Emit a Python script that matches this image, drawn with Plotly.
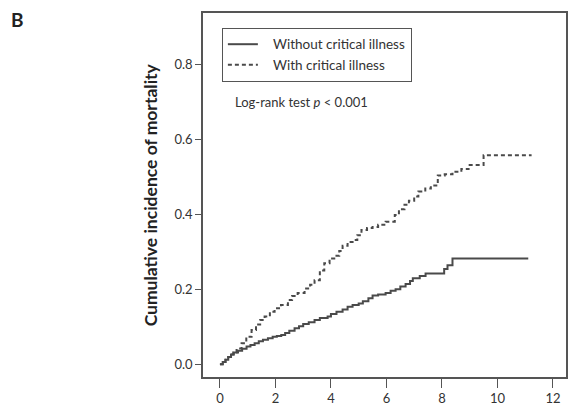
import plotly.graph_objects as go

# Cumulative incidence of mortality (step curves)
time_without = [0, 0.1, 0.2, 0.3, 0.4, 0.5, 0.65, 0.8, 0.96, 1.1, 1.25, 1.4, 1.55, 1.73, 1.9, 2.05, 2.21,
                2.35, 2.5, 2.69, 2.85, 3.0, 3.2, 3.41, 3.6, 3.88, 4.0, 4.2, 4.42, 4.6, 4.78, 5.0, 5.15,
                5.35, 5.5, 5.7, 5.97, 6.15, 6.33, 6.5, 6.69, 6.85, 6.95, 7.2, 7.41, 7.95, 8.08, 8.2,
                8.38, 11.11]
cum_without = [0, 0.006, 0.012, 0.019, 0.026, 0.031, 0.036, 0.041, 0.047, 0.051, 0.056, 0.061, 0.065,
               0.069, 0.073, 0.075, 0.078, 0.083, 0.089, 0.096, 0.101, 0.107, 0.112, 0.118, 0.123, 0.127,
               0.134, 0.14, 0.146, 0.153, 0.158, 0.162, 0.168, 0.176, 0.183, 0.186, 0.19, 0.196, 0.2,
               0.207, 0.214, 0.222, 0.229, 0.235, 0.242, 0.242, 0.254, 0.264, 0.282, 0.282]

time_with = [0, 0.1, 0.2, 0.3, 0.4, 0.48, 0.6, 0.78, 0.95, 1.14, 1.3, 1.45, 1.61, 1.8, 1.97, 2.2, 2.45,
             2.6, 2.8, 3.05, 3.25, 3.41, 3.6, 3.76, 3.95, 4.12, 4.3, 4.42, 4.6, 4.78, 4.95, 5.1, 5.3,
             5.5, 5.7, 5.97, 6.15, 6.3, 6.45, 6.65, 6.81, 7.0, 7.15, 7.4, 7.6, 7.85, 8.1, 8.38, 8.7,
             8.96, 9.5, 11.23]
cum_with = [0, 0.006, 0.012, 0.019, 0.026, 0.031, 0.042, 0.056, 0.073, 0.091, 0.106, 0.118, 0.127,
            0.14, 0.149, 0.158, 0.171, 0.182, 0.19, 0.202, 0.212, 0.224, 0.25, 0.269, 0.282, 0.289,
            0.302, 0.316, 0.326, 0.331, 0.344, 0.358, 0.363, 0.366, 0.372, 0.38, 0.38, 0.398, 0.413,
            0.425, 0.436, 0.447, 0.46, 0.468, 0.476, 0.503, 0.506, 0.513, 0.52, 0.531, 0.557, 0.557]

series_names = ["Without critical illness", "With critical illness"]
x_ticks = [0, 2, 4, 6, 8, 10, 12]
y_ticks = [0.0, 0.2, 0.4, 0.6, 0.8]

FONT = "Lato"
INK = "#333333"
LINE = "#4a4a4a"
PAD = "&nbsp;&nbsp;&nbsp;"

fig = go.Figure()
fig.add_trace(go.Scatter(x=time_without, y=cum_without, mode="lines", name=PAD + series_names[0],
                         line=dict(color=LINE, width=2, shape="hv")))
fig.add_trace(go.Scatter(x=time_with, y=cum_with, mode="lines", name=PAD + series_names[1],
                         line=dict(color=LINE, width=2, shape="hv", dash="4px,3px")))

fig.update_layout(
    width=569, height=411,
    margin=dict(l=203, r=1, t=13, b=34),
    plot_bgcolor="white", paper_bgcolor="white",
    font=dict(family=FONT, size=13, color=INK),
    showlegend=True,
    legend=dict(x=0.052, y=0.959, xanchor="left", yanchor="top",
                bordercolor="#555555", borderwidth=1, bgcolor="white",
                font=dict(family=FONT, size=13.5, color=INK),
                itemwidth=30, tracegroupgap=0),
    xaxis=dict(range=[-0.61, 12.47], tickvals=x_ticks, ticks="outside", ticklen=9,
               tickcolor="#555555", showline=True, mirror=True, linecolor="#555555",
               linewidth=1.5, showgrid=False, zeroline=False,
               tickfont=dict(family=FONT, size=13, color=INK)),
    yaxis=dict(range=[-0.034, 0.936], tickvals=y_ticks, tickformat=".1f", ticks="outside",
               ticklen=6, tickcolor="#555555", showline=True, mirror=True,
               linecolor="#555555", linewidth=1.5, showgrid=False, zeroline=False,
               tickfont=dict(family=FONT, size=13, color=INK)),
    annotations=[
        dict(text="<b>Cumulative incidence of mortality</b>", xref="paper", yref="paper",
             x=-0.145, y=0.5, xanchor="center", yanchor="middle", textangle=-90,
             showarrow=False, font=dict(family=FONT, size=17.5, color="#222222")),
        dict(text="<b>B</b>", xref="paper", yref="paper", x=-0.512, y=0.981,
             xanchor="center", yanchor="middle", showarrow=False,
             font=dict(family=FONT, size=19, color="#222222")),
        dict(text="Log-rank test <i>p</i> < 0.001", xref="paper", yref="paper",
             x=0.082, y=0.755, xanchor="left", yanchor="middle", showarrow=False,
             font=dict(family=FONT, size=13, color=INK)),
    ],
)

fig.write_html("out.html")
